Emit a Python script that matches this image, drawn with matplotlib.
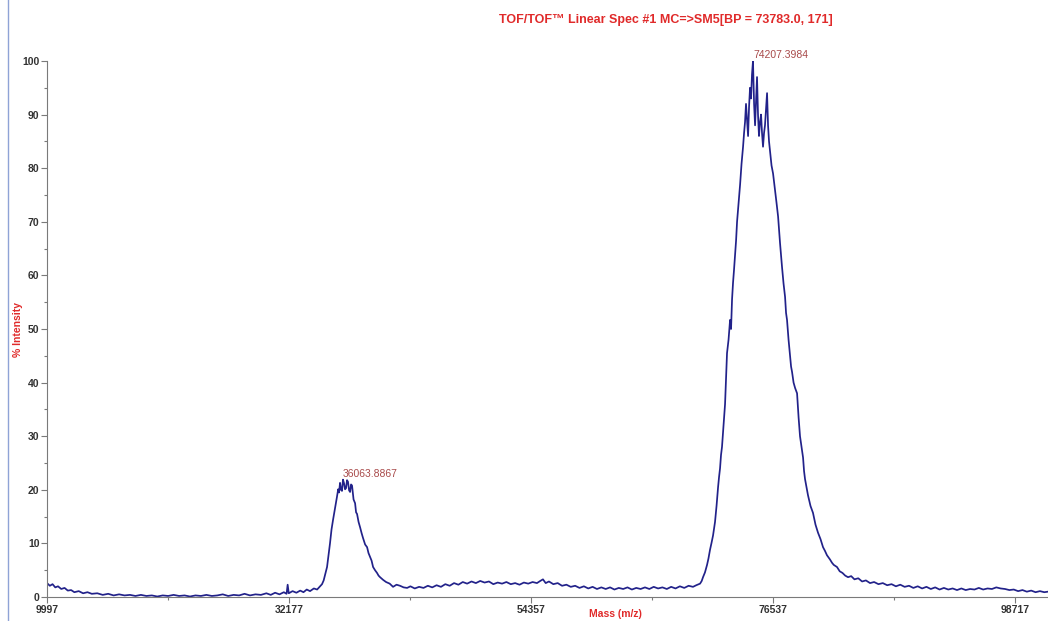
import numpy as np
import matplotlib
matplotlib.use('Agg')
import matplotlib.pyplot as plt
from matplotlib.lines import Line2D
from matplotlib.ticker import MultipleLocator

plt.rcParams['font.family'] = ['Liberation Sans Narrow', 'Liberation Sans', 'DejaVu Sans']

# low mass baseline
low_mass = [9997, 10250, 10500, 10750, 11000, 11300, 11600, 11900, 12200, 12500,
            12900, 13300, 13700, 14100, 14600, 15100, 15600, 16100, 16600, 17100,
            17600, 18100, 18600, 19100, 19600, 20100, 20600, 21100, 21600, 22100,
            22600, 23100, 23600, 24100, 24600, 25100, 25600, 26100, 26600, 27100,
            27600, 28100, 28600, 29100, 29600, 30100, 30500, 30900, 31300, 31700,
            31950, 32050, 32150, 32500, 32850, 33200, 33500, 33800, 34100, 34450,
            34750]
low_int = [2.6, 2.1, 2.4, 1.8, 2.0, 1.5, 1.7, 1.2, 1.3, 0.9,
           1.1, 0.7, 0.9, 0.6, 0.7, 0.4, 0.6, 0.3, 0.5, 0.3,
           0.4, 0.2, 0.4, 0.2, 0.3, 0.1, 0.3, 0.2, 0.4, 0.2,
           0.3, 0.1, 0.3, 0.2, 0.4, 0.2, 0.3, 0.5, 0.2, 0.4,
           0.3, 0.6, 0.3, 0.5, 0.4, 0.7, 0.4, 0.8, 0.5, 0.9,
           0.6, 2.3, 0.7, 1.1, 0.8, 1.2, 0.9, 1.4, 1.1, 1.6,
           1.4]

# first peak (~36 kDa)
p1_mass = [35020, 35200, 35350, 35500, 35660, 35800, 35930, 36070, 36210, 36390,
           36570, 36680, 36760, 36850, 36940, 37030, 37120, 37220, 37310, 37400,
           37490, 37580, 37680, 37770, 37860, 37950, 38090, 38230, 38320, 38410,
           38550, 38690, 38830, 38960, 39150, 39330, 39460, 39600, 39740, 39880,
           40060, 40240, 40380, 40520, 40800, 41070, 41400, 41710, 42030, 42350,
           42680, 43000]
p1_int = [2.0, 2.4, 3.1, 4.3, 5.6, 7.8, 10.0, 12.6, 14.4, 16.5,
          18.7, 20.1, 19.5, 21.3, 20.0, 19.8, 21.9, 21.2, 20.1, 20.3,
          21.8, 21.5, 19.9, 19.6, 21.0, 20.8, 18.2, 17.5, 15.8, 15.5,
          14.0, 13.0, 11.9, 11.0, 9.8, 9.3, 8.2, 7.5, 6.8, 5.6,
          5.0, 4.5, 4.0, 3.7, 3.2, 2.8, 2.5, 1.9, 2.3, 2.1,
          1.8, 1.7]

# between the peaks
mid_mass = [43300, 43700, 44100, 44500, 44900, 45300, 45700, 46100, 46500, 46900,
            47300, 47700, 48100, 48500, 48900, 49300, 49700, 50100, 50500, 50900,
            51300, 51700, 52100, 52500, 52900, 53300, 53700, 54100, 54500, 54900,
            55200, 55450, 55700, 56000, 56400, 56800, 57200, 57600, 58000, 58400,
            58800, 59200, 59600, 60000, 60400, 60800, 61200, 61600, 62000, 62400,
            62800, 63200, 63600, 64000, 64400, 64800, 65200, 65600, 66000, 66400,
            66800, 67200, 67600, 68000, 68400, 68800, 69200, 69500]
mid_int = [2.0, 1.6, 1.9, 1.7, 2.1, 1.8, 2.2, 1.9, 2.4, 2.1,
           2.6, 2.3, 2.8, 2.5, 2.9, 2.6, 3.0, 2.7, 2.9, 2.4,
           2.7, 2.5, 2.8, 2.4, 2.6, 2.3, 2.7, 2.5, 2.8, 2.6,
           3.0, 3.3, 2.6, 2.9, 2.4, 2.6, 2.1, 2.3, 1.9, 2.1,
           1.7, 2.0, 1.6, 1.9, 1.5, 1.8, 1.5, 1.8, 1.4, 1.7,
           1.5, 1.8, 1.4, 1.7, 1.5, 1.8, 1.5, 1.9, 1.6, 1.8,
           1.5, 1.9, 1.6, 2.0, 1.7, 2.1, 1.9, 2.2]

# main peak (~74 kDa)
p2_mass = [69850, 70000, 70120, 70300, 70490, 70620, 70760, 70900, 71040, 71130,
           71220, 71360, 71500, 71590, 71680, 71770, 71860, 72000, 72140, 72230,
           72320, 72460, 72600, 72690, 72780, 72870, 72960, 73060, 73150, 73240,
           73380, 73520, 73650, 73790, 73880, 73970, 74060, 74150, 74250, 74340,
           74430, 74520, 74610, 74700, 74800, 74890, 74980, 75070, 75160, 75250,
           75340, 75440, 75530, 75620, 75710, 75800, 75900, 75990, 76080, 76170,
           76270, 76400, 76540, 76630, 76720, 76860, 77000, 77180, 77360, 77500,
           77640, 77730, 77820, 77960, 78100, 78190, 78280, 78420, 78560, 78650,
           78740, 78880, 79010, 79150, 79290, 79380, 79470, 79600, 79740, 79970,
           80200, 80430, 80660, 80890, 81120, 81300, 81480, 81760, 81940, 82100,
           82400, 82650, 82900, 83150, 83410]
p2_int = [2.5, 3.0, 3.7, 4.6, 6.0, 7.2, 8.8, 10.1, 11.5, 12.8,
          14.0, 17.0, 20.5, 22.4, 24.0, 26.5, 28.0, 32.0, 36.0, 40.5,
          45.5, 48.0, 51.7, 50.0, 55.5, 58.6, 61.0, 64.0, 66.5, 70.0,
          73.5, 77.0, 80.8, 84.0, 86.5, 88.6, 92.0, 89.0, 86.0, 91.5,
          95.0, 93.0, 97.5, 100.0, 92.0, 88.0, 92.5, 97.0, 90.0, 86.0,
          88.5, 90.0, 86.5, 84.0, 86.5, 88.0, 91.0, 94.0, 88.0, 85.0,
          83.0, 80.5, 79.0, 77.5, 76.0, 73.5, 71.0, 66.0, 61.6, 58.5,
          56.0, 53.0, 51.7, 48.0, 45.0, 43.0, 42.0, 40.0, 39.0, 38.5,
          38.0, 33.5, 30.0, 28.0, 26.0, 23.5, 22.0, 20.5, 19.0, 17.0,
          15.7, 13.5, 12.0, 10.8, 9.3, 8.6, 7.8, 7.0, 6.4, 6.0,
          5.6, 4.8, 4.5, 4.0, 3.7]

# high mass tail
tail_mass = [83700, 84000, 84350, 84700, 85050, 85430, 85800, 86200, 86600, 87000,
             87400, 87800, 88200, 88600, 89000, 89400, 89800, 90200, 90600, 91000,
             91400, 91800, 92200, 92600, 93000, 93400, 93800, 94200, 94600, 95000,
             95400, 95800, 96200, 96600, 97000, 97400, 97800, 98200, 98600, 99000,
             99400, 99800, 100200, 100600, 101000, 101400, 101740]
tail_int = [3.9, 3.3, 3.5, 2.9, 3.1, 2.6, 2.8, 2.4, 2.6, 2.2,
            2.4, 2.0, 2.3, 1.9, 2.1, 1.7, 2.0, 1.6, 1.9, 1.5,
            1.8, 1.4, 1.7, 1.4, 1.6, 1.3, 1.6, 1.3, 1.5, 1.4,
            1.7, 1.4, 1.6, 1.5, 1.8, 1.6, 1.5, 1.3, 1.4, 1.1,
            1.3, 1.0, 1.2, 0.9, 1.1, 0.9, 1.0]

peak_labels = ['36063.8867', '74207.3984']
x_ticks = [9997, 32177, 54357, 76537, 98717]

mass = np.concatenate([low_mass, p1_mass, mid_mass, p2_mass, tail_mass])
inten = np.concatenate([low_int, p1_int, mid_int, p2_int, tail_int])

fig = plt.figure(figsize=(10.48, 6.21), dpi=100)
ax = fig.add_axes([0.0449, 0.0386, 0.9551, 0.8632])

ax.plot(mass, inten, color='#22228a', lw=1.25)

# peak labels at the apex of each peak
for pm, pi, lab in zip([p1_mass, p2_mass], [p1_int, p2_int], peak_labels):
    k = int(np.argmax(pi))
    ax.text(pm[k], pi[k] + 0.2, lab, color='#a84a4a', fontsize=7.5,
            ha='left', va='bottom', family=['Liberation Sans', 'DejaVu Sans'])

ax.set_xlim(9997, 101740)
ax.set_ylim(0, 100)
ax.set_xticks(x_ticks)
ax.set_xticklabels([str(t) for t in x_ticks])
ax.set_xticks([(a + b) / 2 for a, b in zip(x_ticks[:-1], x_ticks[1:])], minor=True)
ax.yaxis.set_major_locator(MultipleLocator(10))
ax.yaxis.set_minor_locator(MultipleLocator(5))

for s in ['top', 'right']:
    ax.spines[s].set_visible(False)
for s in ['left', 'bottom']:
    ax.spines[s].set_color('#7a7a7a')
    ax.spines[s].set_linewidth(0.8)

ax.tick_params(which='both', direction='out', color='#7a7a7a', width=0.8)
ax.tick_params(which='major', length=4, labelsize=7.5, labelcolor='#333333', pad=1.5)
ax.tick_params(which='minor', length=2)
for t in ax.get_xticklabels() + ax.get_yticklabels():
    t.set_fontweight('bold')

fig.text(0.635, 0.968, 'TOF/TOF\u2122 Linear Spec #1 MC=>SM5[BP = 73783.0, 171]',
         color='#e02a2a', fontsize=9, fontweight='bold', ha='center', va='center')
fig.text(0.017, 0.47, '% Intensity', color='#e02a2a', fontsize=7.5,
         fontweight='bold', rotation=90, ha='center', va='center')
fig.text(0.587, 0.003, 'Mass (m/z)', color='#e02a2a', fontsize=7.5,
         fontweight='bold', ha='center', va='bottom')

# window frame on the left
fig.add_artist(Line2D([8 / 1048, 8 / 1048], [0, 1], color='#8fa3d6', lw=1.0))

fig.savefig('out.png', dpi=100)
